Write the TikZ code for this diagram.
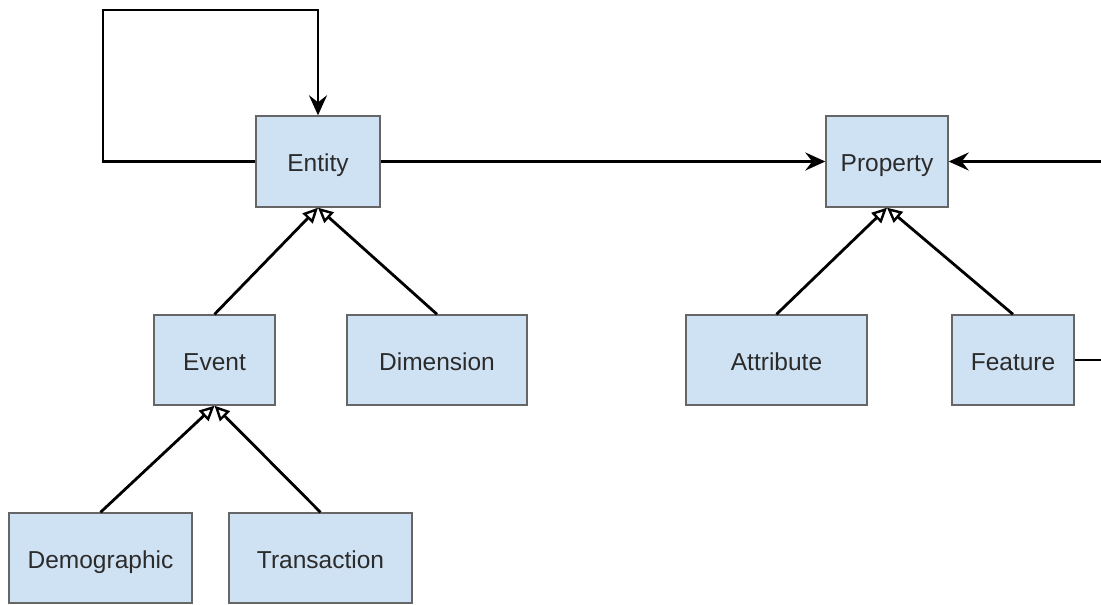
\documentclass[tikz,border=0pt]{standalone}
\usepackage{fontspec}
\setmainfont{Liberation Sans}
\usetikzlibrary{arrows.meta}
\definecolor{boxfill}{HTML}{CFE2F3}
\definecolor{boxline}{HTML}{666666}
\definecolor{labeltext}{HTML}{2B2B2B}
\tikzset{
  cls/.style={draw=boxline, line width=1.4pt, fill=boxfill, inner sep=0pt,
    minimum height=90pt, text=labeltext, text height=20pt, text depth=0pt,
    font=\fontsize{24.5}{28}\selectfont},
  assoc/.style={draw=black, line width=2.8pt,
    -{Stealth[length=20pt,width=18pt,inset=7pt]}},
  isa/.style={draw=black, line width=2.8pt,
    -{Triangle[open,length=15pt,width=14pt,line width=2.4pt]}},
}
\begin{document}
\begin{tikzpicture}[x=1pt,y=-1pt]
\useasboundingbox (0,0) rectangle (1101,605);
\clip (0,0) rectangle (1101,605);

% class boxes
\node[cls, minimum width=124pt, minimum height=91pt] (entity)   at (318,161.5) {Entity};
\node[cls, minimum width=122pt, minimum height=91pt] (property) at (887,161.5) {Property};
\node[cls, minimum width=121pt] (event)       at (214.5,360) {Event};
\node[cls, minimum width=180pt] (dimension)   at (437,360)   {Dimension};
\node[cls, minimum width=181pt] (attribute)   at (776.5,360) {Attribute};
\node[cls, minimum width=122pt] (feature)     at (1013,360)  {Feature};
\node[cls, minimum width=183pt] (demographic) at (100.5,558) {Demographic};
\node[cls, minimum width=183pt] (transaction) at (320.5,558) {Transaction};

% corner points of the routed connectors
\coordinate (loopA) at (103,161.5);
\coordinate (loopB) at (103,10);
\coordinate (loopC) at (318,10);
\coordinate (outA)  at (1125,360);
\coordinate (outB)  at (1125,161.5);

% associations
\draw[assoc] (entity.west) -- (loopA) -- (loopB) -- (loopC) -- (entity.north);
\draw[assoc] (entity.east) -- (property.west);
\draw[assoc] (feature.east) -- (outA) -- (outB) -- (property.east);

% generalisations
\draw[isa] (event.north)       -- (entity.south);
\draw[isa] (dimension.north)   -- (entity.south);
\draw[isa] (attribute.north)   -- (property.south);
\draw[isa] (feature.north)     -- (property.south);
\draw[isa] (demographic.north) -- (event.south);
\draw[isa] (transaction.north) -- (event.south);
\end{tikzpicture}
\end{document}
